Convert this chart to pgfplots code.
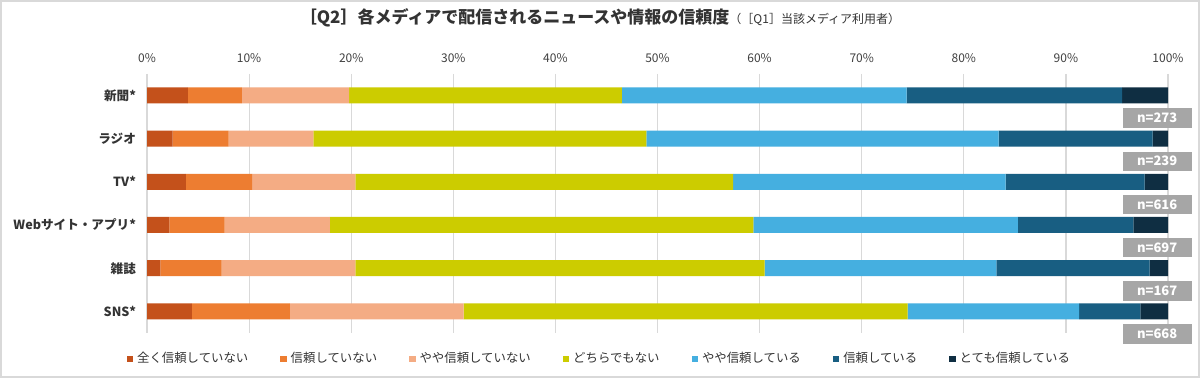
\documentclass[border=0pt]{standalone}
\usepackage{fontspec}
\setmainfont{Noto Sans CJK JP}
\usepackage{pgfplots}
\usepackage{pgfplotstable}
\pgfplotsset{compat=1.18}
\definecolor{c1}{HTML}{C4511B}
\definecolor{c2}{HTML}{ED7D31}
\definecolor{c3}{HTML}{F4AC84}
\definecolor{c4}{HTML}{CCCC00}
\definecolor{c5}{HTML}{45AFE0}
\definecolor{c6}{HTML}{185E82}
\definecolor{c7}{HTML}{0F2E42}
\definecolor{nbox}{HTML}{A6A6A6}
\definecolor{gridc}{HTML}{D9D9D9}
\pgfplotstableread{
cat c1 c2 c3 c4 c5 c6 c7
0 4.0 5.3 10.5 26.7 27.9 21.1 4.5
1 2.5 5.5 8.3 32.6 34.5 15.1 1.5
2 3.8 6.5 10.1 37.0 26.7 13.6 2.3
3 2.2 5.4 10.3 41.5 25.9 11.3 3.4
4 1.3 6.0 13.1 40.1 22.7 15.0 1.8
5 4.4 9.6 17.0 43.5 16.8 6.0 2.7
}\data
\begin{document}
\begin{tikzpicture}[x=1pt,y=1pt]
\fill[white] (0,0) rectangle (600,189);
\draw[gridc, line width=1pt] (0.5,0.5) rectangle (599.5,188.5);
\node[font=\bfseries\fontsize{8.5}{10}\selectfont, text=black!80] at (300,180) {［Q2］各メディアで配信されるニュースや情報の信頼度{\mdseries\fontsize{6}{7}\selectfont（［Q1］当該メディア利用者）}};
\begin{axis}[at={(73.5pt,22.5pt)}, anchor=south west, scale only axis,
  width=510.5pt, height=129.6pt,
  xbar stacked, bar width=8pt,
  xmin=0, xmax=100, ymin=-0.5, ymax=5.5, y dir=reverse,
  ytick={0,...,5},
  yticklabels={新聞*,ラジオ,TV*,Webサイト・アプリ*,雑誌,SNS*},
  xtick={0,10,...,100},
  xticklabel={\pgfmathprintnumber{\tick}\%},
  xticklabel pos=upper,
  xmajorgrids, grid style={draw=gridc, line width=0.6pt},
  axis line style={draw=none}, major tick length=0pt,
  /pgf/number format/assume math mode=true,
  x tick label style={font=\fontsize{6}{7}\selectfont, text=black!75, yshift=2pt},
  y tick label style={font=\bfseries\fontsize{6.3}{7}\selectfont, text=black!80, xshift=-2pt},
  clip=false,
  legend columns=-1,
  legend style={draw=none, fill=none, at={(0.444,-0.1)}, anchor=center,
    font=\fontsize{6.2}{7}\selectfont, text=black!80,
    /tikz/every even column/.append style={column sep=14pt}},
  legend image code/.code={\fill[#1] (0pt,-1.6pt) rectangle (3.2pt,1.6pt);},
]
\addplot[fill=c1, draw=none] table[x=c1, y=cat] {\data};
\addplot[fill=c2, draw=none] table[x=c2, y=cat] {\data};
\addplot[fill=c3, draw=none] table[x=c3, y=cat] {\data};
\addplot[fill=c4, draw=none] table[x=c4, y=cat] {\data};
\addplot[fill=c5, draw=none] table[x=c5, y=cat] {\data};
\addplot[fill=c6, draw=none] table[x=c6, y=cat] {\data};
\addplot[fill=c7, draw=none] table[x=c7, y=cat] {\data};
\legend{全く信頼していない,信頼していない,やや信頼していない,どちらでもない,やや信頼している,信頼している,とても信頼している}
\foreach \n/\yy in {273/0, 239/1, 616/2, 697/3, 167/4, 668/5}{
  \edef\temp{\noexpand\node[fill=nbox, text=white, font=\noexpand\bfseries\noexpand\fontsize{6.5}{7}\noexpand\selectfont, minimum width=34.5pt, minimum height=9.7pt, inner sep=0pt] at (axis cs:98.94,\yy+0.525) {n=\n};}
  \temp
}
\end{axis}
\end{tikzpicture}
\end{document}
